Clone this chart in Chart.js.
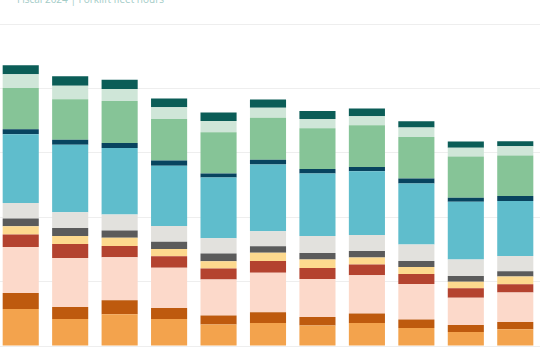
<!DOCTYPE html>
<html lang="en">
<head>
  <meta charset="UTF-8">
  <title>Forklift fleet</title>
  <script src="https://cdn.jsdelivr.net/npm/chart.js"></script>
  <style>
    html, body { margin: 0; padding: 0; background: #fff; overflow: hidden; }
    .wrap { position: relative; width: 540px; height: 350px; overflow: hidden; }
    .sub {
      position: absolute; top: -8px; left: 17px;
      font: 10px "Open Sans", sans-serif; color: #a3ccc7; white-space: nowrap;
    }
    .box { position: absolute; left: -4px; top: 0; width: 544px; height: 350px; }
  </style>
</head>
<body>
  <div class="wrap">
    <div class="sub">Fiscal 2024 | Forklift fleet hours</div>
    <div class="box"><canvas id="grafico"></canvas></div>
  </div>

  <script>
    const periodos = ['P1', 'P2', 'P3', 'P4', 'P5', 'P6', 'P7', 'P8', 'P9', 'P10', 'P11'];

    // series, bottom of the stack first
    const laranja      = [57.5, 41.9, 49.2, 41.9, 33.2, 35.7, 31.7, 35.7, 28.0, 21.7, 25.9];
    const laranjaEsc   = [24.8, 18.6, 21.7, 17.1, 14.0, 16.6, 13.4, 14.6, 13.0, 10.9, 11.3];
    const pessego      = [71.4, 76.1, 66.8, 62.7, 55.9, 61.6, 59.0, 59.5, 55.3, 42.5, 45.7];
    const vermelho     = [19.3, 21.7, 17.5, 17.5, 17.1, 18.0, 17.1, 16.6, 15.5, 14.4, 12.9];
    const amarelo      = [12.9, 12.4, 13.0, 11.3, 11.3, 13.0, 13.0, 10.9, 10.9, 10.4, 12.0];
    const cinzaEsc     = [12.0, 12.4, 11.3, 11.5, 12.0,  9.8, 10.2, 10.2,  9.3,  8.7,  8.2];
    const cinzaClaro   = [24.2, 24.4, 24.8, 24.2, 23.8, 23.3, 26.4, 24.8, 25.5, 25.9, 23.8];
    const azul         = [106.7, 105.1, 103.0, 93.8, 94.3, 104.0, 96.9, 98.9, 94.7, 89.6, 85.4];
    const marinho      = [7.8, 7.8, 7.8, 8.2, 6.2, 7.3, 7.1, 6.7, 7.8, 6.2, 7.8];
    const verde        = [64.1, 62.6, 65.2, 64.1, 64.1, 65.2, 63.2, 64.8, 64.6, 64.1, 62.7];
    const verdeClaro   = [21.3, 21.3, 18.6, 18.6, 17.5, 15.5, 14.4, 14.0, 14.6, 13.5, 14.4];
    const petroleo     = [14.0, 14.4, 14.6, 13.5, 13.0, 12.9, 12.4, 12.0,  9.8,  9.8,  7.8];

    const series = [
      { label: 'Laranja', data: laranja, cor: '#f3a34d' },
      { label: 'Laranja escuro', data: laranjaEsc, cor: '#be5a0e' },
      { label: 'Pêssego', data: pessego, cor: '#fcd9ca' },
      { label: 'Vermelho', data: vermelho, cor: '#b4432f' },
      { label: 'Amarelo', data: amarelo, cor: '#fdd98e' },
      { label: 'Cinza escuro', data: cinzaEsc, cor: '#5b5b5b' },
      { label: 'Cinza claro', data: cinzaClaro, cor: '#e2e1dd' },
      { label: 'Azul', data: azul, cor: '#5fbdcc' },
      { label: 'Marinho', data: marinho, cor: '#08445f' },
      { label: 'Verde', data: verde, cor: '#86c497' },
      { label: 'Verde claro', data: verdeClaro, cor: '#cfe6d8' },
      { label: 'Petróleo', data: petroleo, cor: '#0b5d57' }
    ];

    const ctx = document.getElementById('grafico').getContext('2d');

    new Chart(ctx, {
      type: 'bar',
      data: {
        labels: periodos,
        datasets: series.map(s => ({
          label: s.label,
          data: s.data,
          backgroundColor: s.cor,
          borderWidth: 0,
          categoryPercentage: 1,
          barPercentage: 0.73
        }))
      },
      options: {
        responsive: true,
        maintainAspectRatio: false,
        animation: false,
        layout: { padding: { top: 24, bottom: 4, left: 0, right: 0 } },
        plugins: {
          legend: { display: false },
          tooltip: { enabled: false }
        },
        scales: {
          x: {
            stacked: true,
            display: false
          },
          y: {
            stacked: true,
            min: 0,
            max: 500,
            ticks: { display: false, stepSize: 100 },
            border: { display: false },
            grid: { color: '#eeeeee', lineWidth: 1, drawTicks: false }
          }
        }
      }
    });
  </script>
</body>
</html>
